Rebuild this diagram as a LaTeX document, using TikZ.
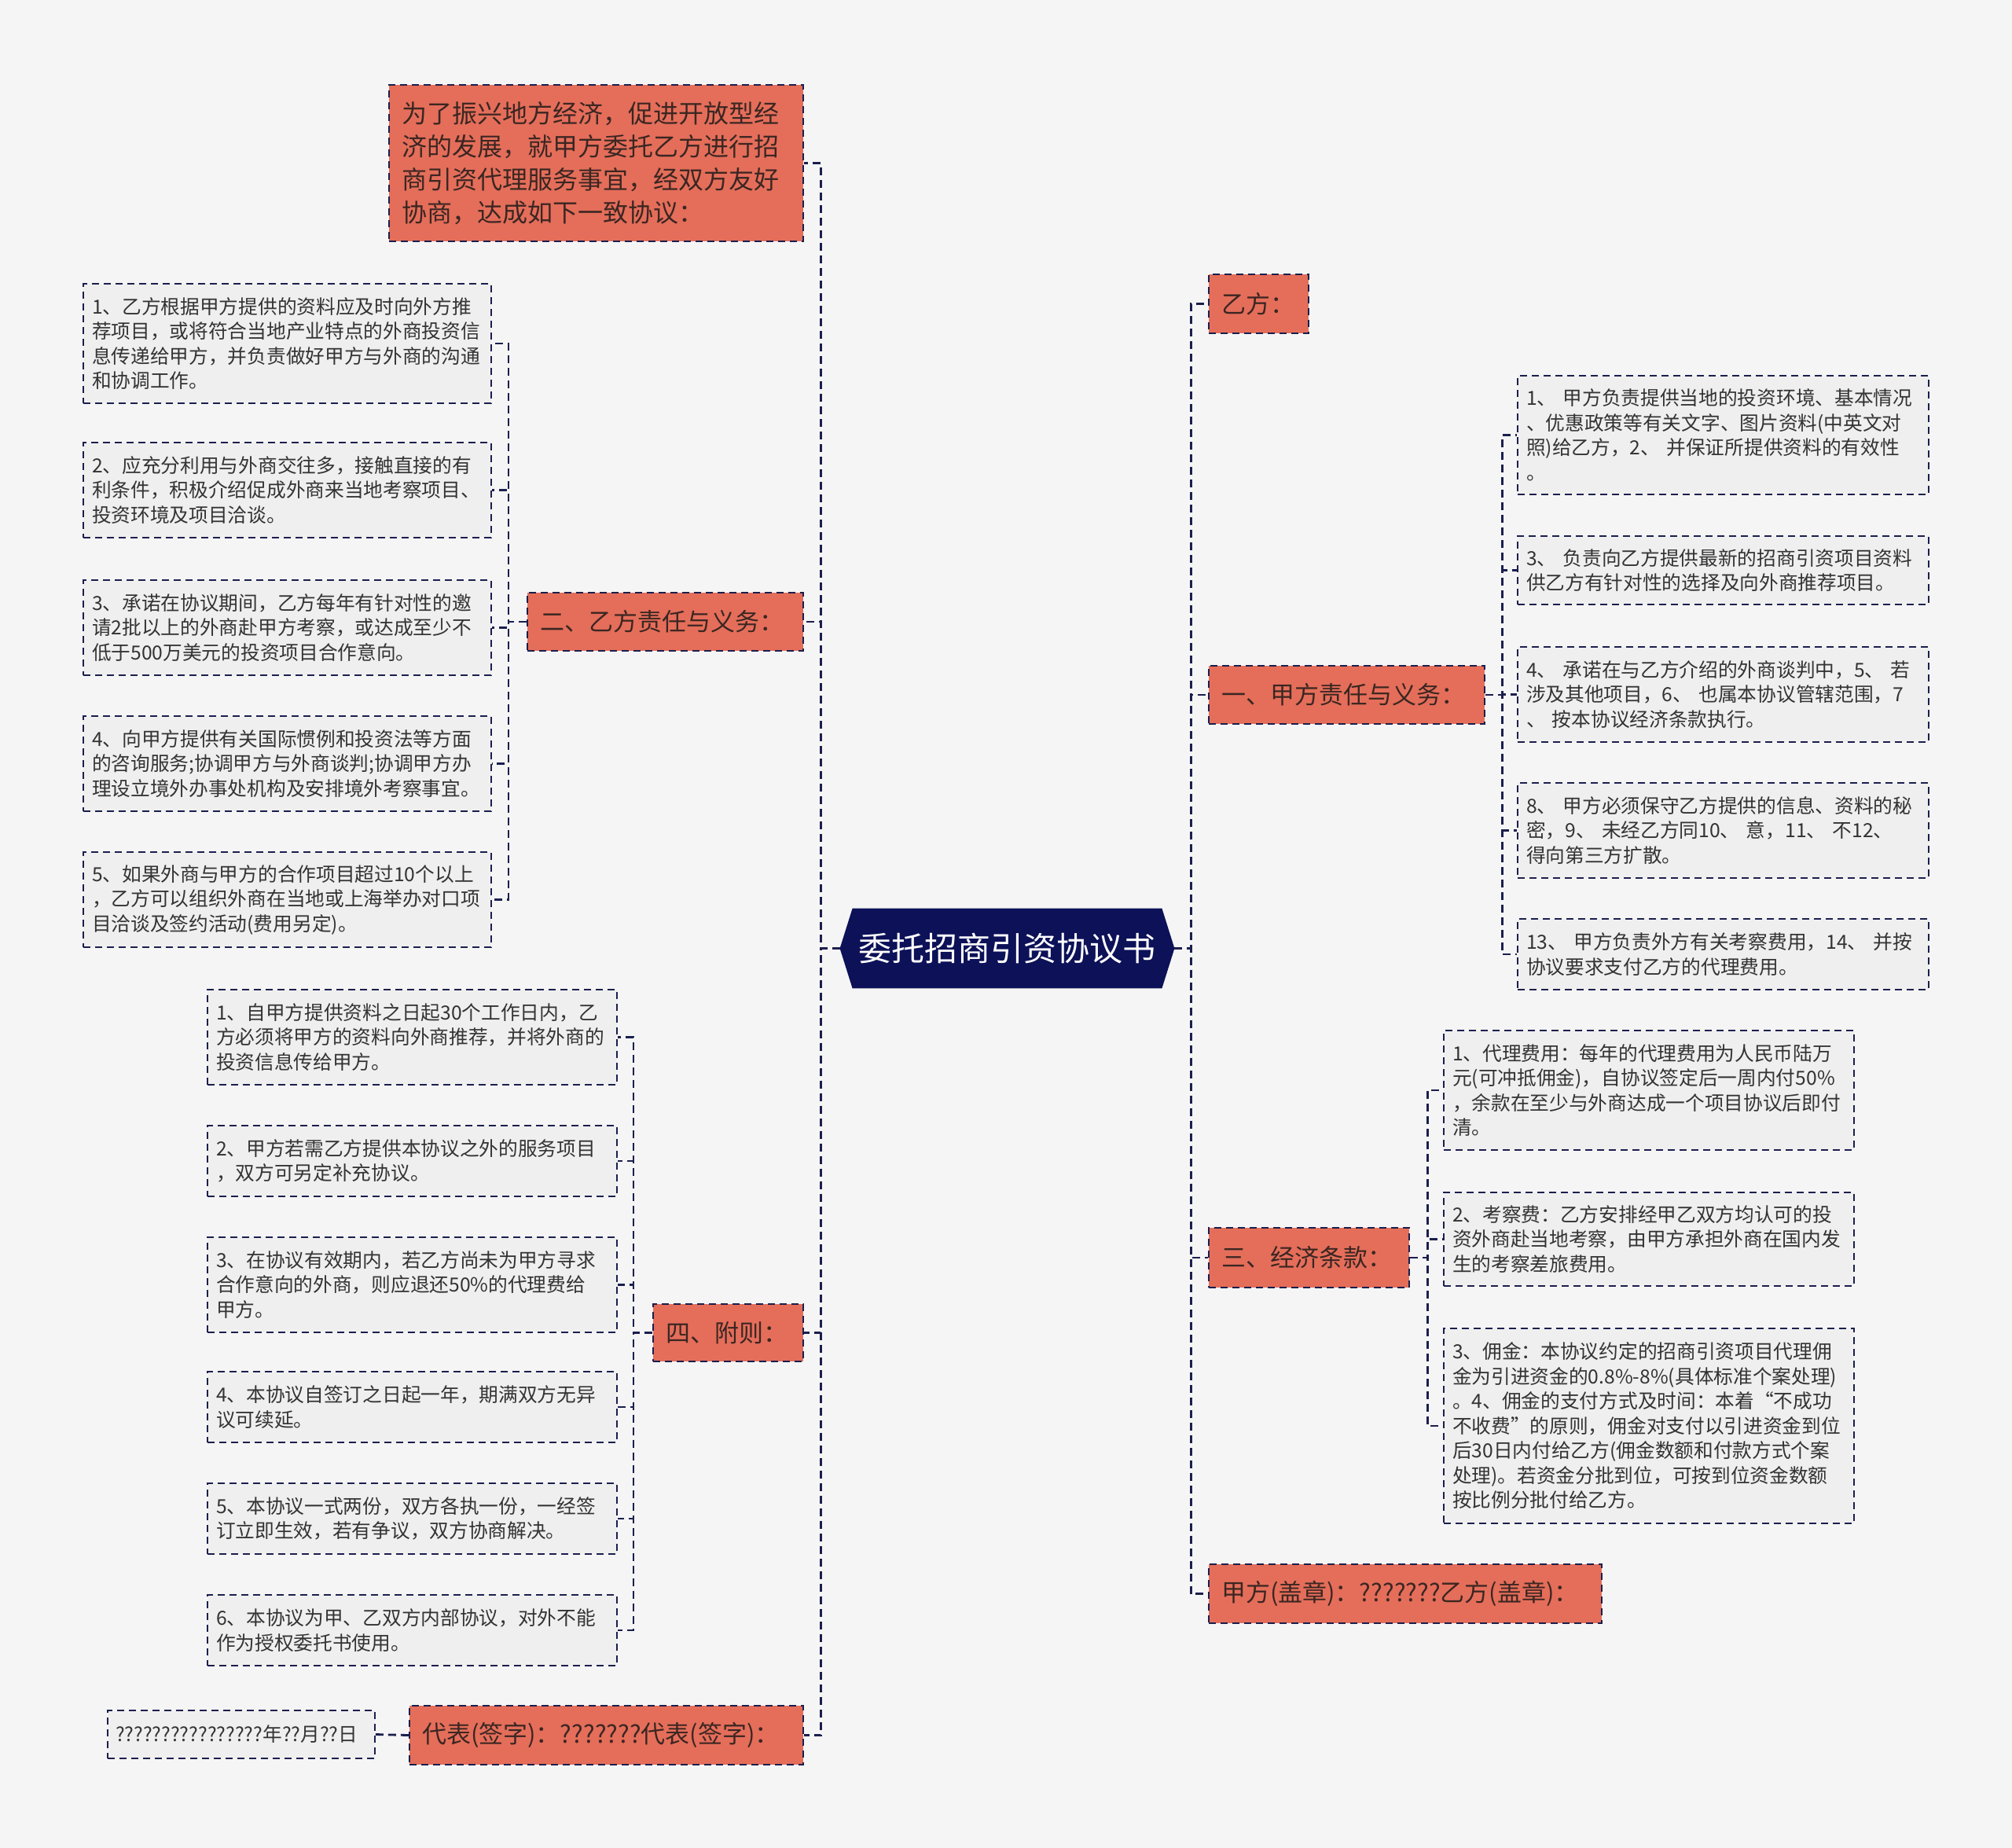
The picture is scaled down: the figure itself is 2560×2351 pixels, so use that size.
\documentclass[tikz,border=0pt]{standalone}
\usepackage{fontspec}
\setmainfont{Noto Sans CJK SC}
\usetikzlibrary{backgrounds}
\definecolor{bgc}{HTML}{F5F5F5}
\definecolor{salmon}{HTML}{E46E5A}
\definecolor{navy}{HTML}{0C1158}
\definecolor{edge}{HTML}{1B1F4D}
\definecolor{leaffill}{HTML}{EFEFEF}
\definecolor{leaftext}{HTML}{333333}
\definecolor{branchtext}{HTML}{3B2622}
\begin{document}
\begin{tikzpicture}[x=0.5pt,y=-0.5pt,
  conn/.style={draw=edge, line width=1.4pt, dash pattern=on 5pt off 3pt},
  branch/.style={draw=edge, fill=salmon, line width=1.1pt, dash pattern=on 4.5pt off 3pt,
    text=branchtext, font=\fontsize{15.5pt}{19pt}\selectfont, inner xsep=8pt, inner ysep=0pt, align=left},
  leaf/.style={draw=edge, fill=leaffill, line width=0.9pt, dash pattern=on 4.5pt off 3pt,
    text=leaftext, font=\fontsize{12.35pt}{15.75pt}\selectfont, inner xsep=5.5pt, inner ysep=0pt, align=left},
  rootbox/.style={minimum width=212.5pt, minimum height=50.5pt, inner sep=0pt,
    text=white, font=\fontsize{21pt}{25pt}\selectfont},
]
\useasboundingbox (0,0) rectangle (2560,2351);

% root
\node[rootbox] (root) at (1281.5,1206.5) {委托招商引资协议书};

% left branches
\node[branch, text width=247.5pt, minimum height=99.5pt, font=\fontsize{16pt}{21pt}\selectfont] (intro) at (758.5,207.5)
  {为了振兴地方经济，促进开放型经\\济的发展，就甲方委托乙方进行招\\商引资代理服务事宜，经双方友好\\协商，达成如下一致协议：};
\node[branch, text width=159.5pt, minimum height=37pt] (b2) at (846.5,791) {二、乙方责任与义务：};
\node[branch, text width=79.5pt, minimum height=36.5pt] (b4) at (926.5,1695.5) {四、附则：};
\node[branch, text width=234.5pt, minimum height=37.5pt] (b5) at (771.5,2207.5) {代表(签字)：???????代表(签字)：};

% right branches
\node[branch, text width=47.5pt, minimum height=37.5pt] (r1) at (1601.5,386.5) {乙方：};
\node[branch, text width=159.5pt, minimum height=37pt] (r2) at (1713.5,884) {一、甲方责任与义务：};
\node[branch, text width=111.5pt, minimum height=38pt] (r3) at (1665.5,1600) {三、经济条款：};
\node[branch, text width=234pt, minimum height=37.5pt] (r4) at (1788,2027.5) {甲方(盖章)：???????乙方(盖章)：};

% leaves of b2
\node[leaf, text width=248.5pt, minimum height=76pt] (L1) at (365.5,437)
  {1、乙方根据甲方提供的资料应及时向外方推\\荐项目，或将符合当地产业特点的外商投资信\\息传递给甲方，并负责做好甲方与外商的沟通\\和协调工作。};
\node[leaf, text width=248.5pt, minimum height=60.5pt] (L2) at (365.5,623.5)
  {2、应充分利用与外商交往多，接触直接的有\\利条件，积极介绍促成外商来当地考察项目、\\投资环境及项目洽谈。};
\node[leaf, text width=248.5pt, minimum height=60.5pt] (L3) at (365.5,798.5)
  {3、承诺在协议期间，乙方每年有针对性的邀\\请2批以上的外商赴甲方考察，或达成至少不\\低于500万美元的投资项目合作意向。};
\node[leaf, text width=248.5pt, minimum height=60.5pt] (L4) at (365.5,971.5)
  {4、向甲方提供有关国际惯例和投资法等方面\\的咨询服务;协调甲方与外商谈判;协调甲方办\\理设立境外办事处机构及安排境外考察事宜。};
\node[leaf, text width=248.5pt, minimum height=60.5pt] (L5) at (365.5,1144.5)
  {5、如果外商与甲方的合作项目超过10个以上\\，乙方可以组织外商在当地或上海举办对口项\\目洽谈及签约活动(费用另定)。};

% leaves of b4
\node[leaf, text width=249.5pt, minimum height=60.5pt] (F1) at (524.5,1319.5)
  {1、自甲方提供资料之日起30个工作日内，乙\\方必须将甲方的资料向外商推荐，并将外商的\\投资信息传给甲方。};
\node[leaf, text width=249.5pt, minimum height=45pt] (F2) at (524.5,1477)
  {2、甲方若需乙方提供本协议之外的服务项目\\，双方可另定补充协议。};
\node[leaf, text width=249.5pt, minimum height=60.5pt] (F3) at (524.5,1634.5)
  {3、在协议有效期内，若乙方尚未为甲方寻求\\合作意向的外商，则应退还50\%的代理费给\\甲方。};
\node[leaf, text width=249.5pt, minimum height=45pt] (F4) at (524.5,1790)
  {4、本协议自签订之日起一年，期满双方无异\\议可续延。};
\node[leaf, text width=249.5pt, minimum height=45pt] (F5) at (524.5,1932)
  {5、本协议一式两份，双方各执一份，一经签\\订立即生效，若有争议，双方协商解决。};
\node[leaf, text width=249.5pt, minimum height=45pt] (F6) at (524.5,2074)
  {6、本协议为甲、乙双方内部协议，对外不能\\作为授权委托书使用。};

% leaf of b5
\node[leaf, text width=160pt, inner xsep=5pt, minimum height=30.5pt] (D1) at (307,2206.5)
  {????????????????年??月??日};

% leaves of r2
\node[leaf, text width=250.5pt, minimum height=75.5pt] (R1) at (2192.5,553.5)
  {1、 甲方负责提供当地的投资环境、基本情况\\、优惠政策等有关文字、图片资料(中英文对\\照)给乙方，2、 并保证所提供资料的有效性\\。};
\node[leaf, text width=250.5pt, minimum height=43.5pt] (R2) at (2192.5,725.5)
  {3、 负责向乙方提供最新的招商引资项目资料\\供乙方有针对性的选择及向外商推荐项目。};
\node[leaf, text width=250.5pt, minimum height=60.5pt] (R3) at (2192.5,883.5)
  {4、 承诺在与乙方介绍的外商谈判中，5、 若\\涉及其他项目，6、 也属本协议管辖范围，7\\、 按本协议经济条款执行。};
\node[leaf, text width=250.5pt, minimum height=60.5pt] (R4) at (2192.5,1056.5)
  {8、 甲方必须保守乙方提供的信息、资料的秘\\密，9、 未经乙方同10、 意，11、 不12、\\得向第三方扩散。};
\node[leaf, text width=250.5pt, minimum height=45pt] (R5) at (2192.5,1214)
  {13、 甲方负责外方有关考察费用，14、 并按\\协议要求支付乙方的代理费用。};

% leaves of r3
\node[leaf, text width=250pt, minimum height=76pt] (E1) at (2098,1387)
  {1、代理费用：每年的代理费用为人民币陆万\\元(可冲抵佣金)，自协议签定后一周内付50\%\\，余款在至少与外商达成一个项目协议后即付\\清。};
\node[leaf, text width=250pt, minimum height=59.5pt] (E2) at (2098,1576.5)
  {2、考察费：乙方安排经甲乙双方均认可的投\\资外商赴当地考察，由甲方承担外商在国内发\\生的考察差旅费用。};
\node[leaf, text width=250pt, minimum height=124pt] (E3) at (2098,1814)
  {3、佣金：本协议约定的招商引资项目代理佣\\金为引进资金的0.8\%-8\%(具体标准个案处理)\\。4、佣金的支付方式及时间：本着“不成功\\不收费”的原则，佣金对支付以引进资金到位\\后30日内付给乙方(佣金数额和付款方式个案\\处理)。若资金分批到位，可按到位资金数额\\按比例分批付给乙方。};

% background and root hexagon
\begin{scope}[on background layer]
  \fill[bgc] (0,0) rectangle (2560,2351);
  \fill[navy] (root.west) -- ([xshift=8pt]root.north west) -- ([xshift=-8pt]root.north east)
    -- (root.east) -- ([xshift=-8pt]root.south east) -- ([xshift=8pt]root.south west) -- cycle;
\end{scope}

% connectors: root
\foreach \c in {intro,b2,b4,b5} \draw[conn] (root.west) -- ++(-24,0) |- (\c.east);
\foreach \c in {r1,r2,r3,r4} \draw[conn] (root.east) -- ++(21,0) |- (\c.west);
% b2
\foreach \c in {L1,L2,L3,L4,L5} \draw[conn] (b2.west) -- ++(-23,0) |- (\c.east);
% b4
\foreach \c in {F1,F2,F3,F4,F5,F6} \draw[conn] (b4.west) -- ++(-24,0) |- (\c.east);
% b5
\draw[conn] (b5.west) -- (D1.east);
% r2
\foreach \c in {R1,R2,R3,R4,R5} \draw[conn] (r2.east) -- ++(21,0) |- (\c.west);
% r3
\foreach \c in {E1,E2,E3} \draw[conn] (r3.east) -- ++(22,0) |- (\c.west);
\end{tikzpicture}
\end{document}
